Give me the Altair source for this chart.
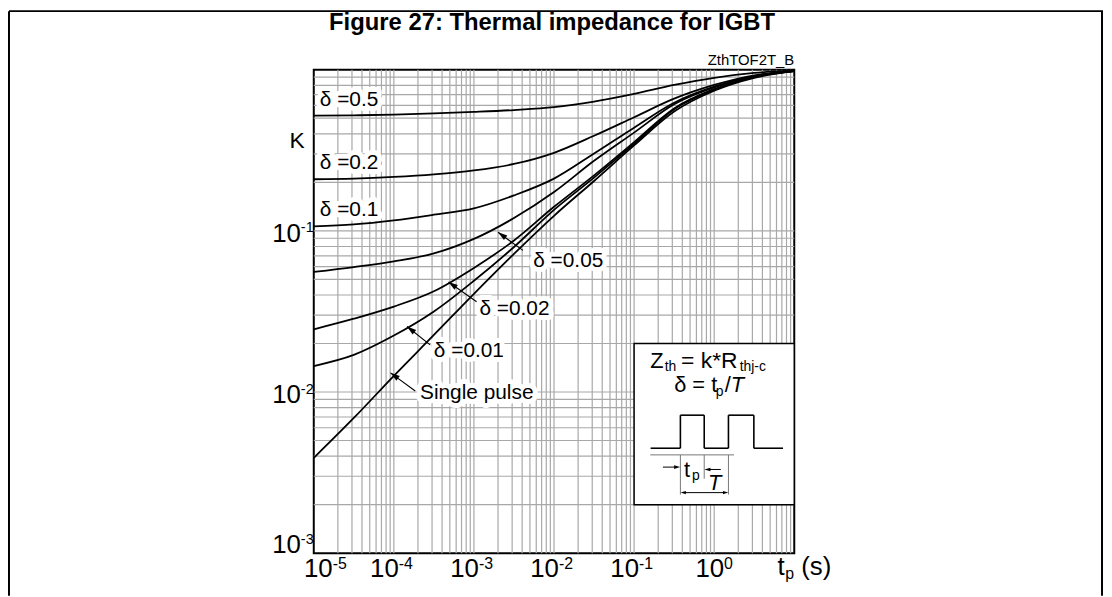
import altair as alt
import pandas as pd

FONT = "Liberation Sans"

# ---------------- data ----------------
tp = [1e-5, 3.162e-5, 1e-4, 3.162e-4, 1e-3, 3.162e-3, 1e-2, 3.162e-2, 1e-1, 3.162e-1, 1.0, 3.162, 10.0]

k_single = [0.0039, 0.0069, 0.0126, 0.0226, 0.0407, 0.072, 0.124, 0.204, 0.339, 0.55, 0.74, 0.89, 0.98]
k_d001 = [0.0145, 0.0170, 0.0224, 0.0316, 0.049, 0.0794, 0.135, 0.214, 0.347, 0.569, 0.75, 0.90, 0.98]
k_d002 = [0.0245, 0.0285, 0.0339, 0.0422, 0.0589, 0.0871, 0.141, 0.221, 0.355, 0.575, 0.759, 0.906, 0.98]
k_d005 = [0.0556, 0.0596, 0.0646, 0.0724, 0.0891, 0.120, 0.174, 0.272, 0.407, 0.610, 0.776, 0.912, 0.984]
k_d01 = [0.1067, 0.1096, 0.1161, 0.1259, 0.138, 0.166, 0.211, 0.302, 0.437, 0.624, 0.785, 0.912, 0.984]
k_d02 = [0.209, 0.211, 0.216, 0.224, 0.237, 0.260, 0.305, 0.389, 0.507, 0.661, 0.804, 0.923, 0.984]
k_d05 = [0.519, 0.521, 0.526, 0.535, 0.547, 0.562, 0.585, 0.634, 0.708, 0.804, 0.891, 0.955, 0.989]

series_names = ["Single pulse", "δ=0.01", "δ=0.02", "δ=0.05", "δ=0.1", "δ=0.2", "δ=0.5"]
series_values = [k_single, k_d001, k_d002, k_d005, k_d01, k_d02, k_d05]

label_texts = ["δ =0.5", "δ =0.2", "δ =0.1", "δ =0.05", "δ =0.02", "δ =0.01", "Single pulse"]
label_tp = [1.19e-5, 1.19e-5, 1.19e-5, 0.0055, 0.00117, 0.000316, 0.000212]
label_k = [0.644, 0.262, 0.135, 0.0647, 0.0327, 0.0179, 0.0098]

arrow_tail_tp = [0.00409, 0.00108, 0.000284, 0.000185]
arrow_tail_k = [0.0757, 0.0363, 0.0196, 0.01014]
arrow_tip_tp = [0.0020, 0.000481, 0.000146, 9.08e-5]
arrow_tip_k = [0.098, 0.0482, 0.0255, 0.01315]
arrow_angle = [306, 305, 308, 306]

x_tick_vals = [1e-5, 1e-4, 1e-3, 1e-2, 1e-1, 1.0]
x_tick_exp = ["-5", "-4", "-3", "-2", "-1", "0"]
y_tick_vals = [1e-1, 1e-2, 1e-3]
y_tick_exp = ["-1", "-2", "-3"]

grid_x = [m * 10.0 ** e for e in range(-5, 1) for m in range(1, 10)][1:]
grid_y = [m * 10.0 ** e for e in range(-3, 0) for m in range(1, 10)][1:]

ARROW = "M0,0L0.55,1.8L-0.55,1.8Z"

# ---------------- tables ----------------
rows = []
for name, ks in zip(series_names, series_values):
    for t, k in zip(tp, ks):
        rows.append({"tp": t, "K": k, "series": name})
df = pd.DataFrame(rows)

labels_df = pd.DataFrame({"tp": label_tp, "K": label_k, "s": label_texts})
arrows_df = pd.DataFrame({"tp": arrow_tail_tp, "K": arrow_tail_k,
                          "tp2": arrow_tip_tp, "K2": arrow_tip_k, "ang": arrow_angle})

W, H = 484, 487
xs = alt.Scale(type="log", domain=[1e-5, 10])
ys = alt.Scale(type="log", domain=[1e-3, 1])
ONE = pd.DataFrame({"a": [0]})


def X(f="tp"):
    return alt.X(f + ":Q", scale=xs, axis=None)


def Y(f="K"):
    return alt.Y(f + ":Q", scale=ys, axis=None)


def dtext(x, y, s, size, dx=0, dy=0, align="left", baseline="alphabetic",
          weight="normal", style="normal"):
    d = pd.DataFrame({"tp": [x], "K": [y], "s": [s]})
    return alt.Chart(d).mark_text(
        font=FONT, fontSize=size, dx=dx, dy=dy, align=align, baseline=baseline,
        fontWeight=weight, fontStyle=style, color="black"
    ).encode(x=X(), y=Y(), text="s:N")


def ptext(x, y, s, size, align="left", weight="normal", style="normal", color="black"):
    return alt.Chart(ONE).mark_text(
        font=FONT, fontSize=size, align=align, baseline="alphabetic",
        fontWeight=weight, fontStyle=style, color=color, text=s
    ).encode(x=alt.value(x), y=alt.value(y))


def prule(x1, y1, x2, y2, color="black", w=1.5):
    return alt.Chart(ONE).mark_rule(color=color, strokeWidth=w).encode(
        x=alt.value(x1), y=alt.value(y1), x2=alt.value(x2), y2=alt.value(y2))


def phead(x, y, angle, size=40):
    return alt.Chart(ONE).mark_point(shape=ARROW, filled=True, size=size, color="black",
                                     opacity=1, strokeWidth=0, angle=angle).encode(
        x=alt.value(x), y=alt.value(y))


layers = []

# grid
layers.append(alt.Chart(pd.DataFrame({"tp": grid_x})).mark_rule(
    color="#a8a8a8", strokeWidth=1.2).encode(x=X()))
layers.append(alt.Chart(pd.DataFrame({"K": grid_y})).mark_rule(
    color="#a8a8a8", strokeWidth=1.2).encode(y=Y()))

# curves
layers.append(alt.Chart(df).mark_line(color="black", strokeWidth=1.8, interpolate="monotone").encode(
    x=X(), y=Y(), detail="series:N", order="tp:Q"))

# curve labels with white background halo
layers.append(alt.Chart(labels_df).mark_text(
    font=FONT, fontSize=21, align="left", baseline="middle", color="white",
    stroke="white", strokeWidth=10, strokeJoin="round").encode(x=X(), y=Y(), text="s:N"))
layers.append(alt.Chart(labels_df).mark_text(
    font=FONT, fontSize=21, align="left", baseline="middle", color="black").encode(
    x=X(), y=Y(), text="s:N"))

# arrows
layers.append(alt.Chart(arrows_df).mark_rule(color="black", strokeWidth=1.1).encode(
    x=X(), y=Y(), x2="tp2:Q", y2="K2:Q"))
layers.append(alt.Chart(arrows_df).mark_point(shape=ARROW, filled=True, size=110, color="black",
                                              opacity=1, strokeWidth=0).encode(
    x=X("tp2"), y=Y("K2"), angle=alt.Angle("ang:Q", scale=None)))

# inset box (aligned to grid: tp 0.1..10, K 0.002..0.02)
box = pd.DataFrame({"tp": [0.1], "tp2": [10.0], "K": [0.02], "K2": [0.002]})
layers.append(alt.Chart(box).mark_rect(fill="white", stroke="black", strokeWidth=1.5).encode(
    x=X(), x2="tp2:Q", y=Y(), y2="K2:Q"))

# inset schematic (pixel coordinates inside the view)
layers += [
    ptext(339, 300, "Z", 22),
    ptext(353.5, 304, "th", 14),
    ptext(370, 300, "= k*R", 23),
    ptext(429, 304, "thj-c", 14),
    ptext(363, 325, "δ = t", 22),
    ptext(405, 329, "p", 14),
    ptext(414, 325, "/", 22),
    ptext(420, 325, "T", 22, style="italic"),
]
wave = [(339.3, 381.3, 369.3, 381.3), (369.3, 381.3, 369.3, 348), (369.3, 348, 393.3, 348),
        (393.3, 348, 393.3, 381.3), (393.3, 381.3, 417.7, 381.3), (417.7, 381.3, 417.7, 348),
        (417.7, 348, 443.3, 348), (443.3, 348, 443.3, 381.3), (443.3, 381.3, 472.7, 381.3)]
for a, b, c, d in wave:
    layers.append(prule(a, b, c, d, w=1.6))
layers += [
    prule(339, 388, 423.3, 388, color="#777777", w=1),
    prule(369.3, 388, 369.3, 428, color="#777777", w=1),
    prule(393.3, 388, 393.3, 412, color="#777777", w=1),
    prule(417.7, 388, 417.7, 428, color="#777777", w=1),
    prule(351.7, 400.3, 364, 400.3, color="black", w=1),
    phead(369, 400.3, 90, 45),
    prule(398, 402.7, 410, 402.7, color="black", w=1),
    phead(393.5, 402.7, 270, 45),
    prule(374, 426, 413, 426, color="black", w=1),
    phead(369.5, 426, 270, 35),
    phead(417.5, 426, 90, 35),
    ptext(373, 410, "t", 22),
    ptext(381, 413, "p", 14),
    ptext(397, 423, "T", 22, style="italic"),
]

# tick labels (drawn as base + superscript)
for v, e in zip(x_tick_vals, x_tick_exp):
    off = 19 if v == 1e-5 else (10 if e == "0" else 5)
    layers.append(dtext(v, 1e-3, "10", 26, dx=off, dy=24, align="right"))
    layers.append(dtext(v, 1e-3, e, 16, dx=off, dy=16, align="left"))
for v, e in zip(y_tick_vals, y_tick_exp):
    shift = -11 if v == 1e-3 else 0
    layers.append(dtext(1e-5, v, "10", 26, dx=-13, dy=11 + shift, align="right"))
    layers.append(dtext(1e-5, v, e, 14.5, dx=-13, dy=1.5 + shift, align="left"))

# axis titles
layers.append(dtext(1e-5, 0.327, "K", 23, dx=-9, align="right"))
layers.append(dtext(10, 1e-3, "t", 26, dx=-17, dy=22))
layers.append(dtext(10, 1e-3, "p", 16, dx=-9, dy=26))
layers.append(dtext(10, 1e-3, "(s)", 26, dx=7, dy=22))

# figure title, code label, frame
layers += [
    ptext(240, -40, "Figure 27: Thermal impedance for IGBT", 24, align="center", weight="bold"),
    ptext(484, -5, "ZthTOF2T_B", 15, align="right"),
    prule(-307, -59, 795, -59, w=2),
    prule(-307, -59, -307, 530, w=2),
    prule(794, -59, 794, 530, w=2),
]

chart = alt.layer(*layers).properties(
    width=W, height=H,
    padding={"left": 308, "top": 60, "right": 312, "bottom": 42},
    autosize=alt.AutoSizeParams(type="none"),
).configure_view(stroke="black", strokeWidth=2)

chart.save("out.html", embed_options={"renderer": "svg", "actions": False})
